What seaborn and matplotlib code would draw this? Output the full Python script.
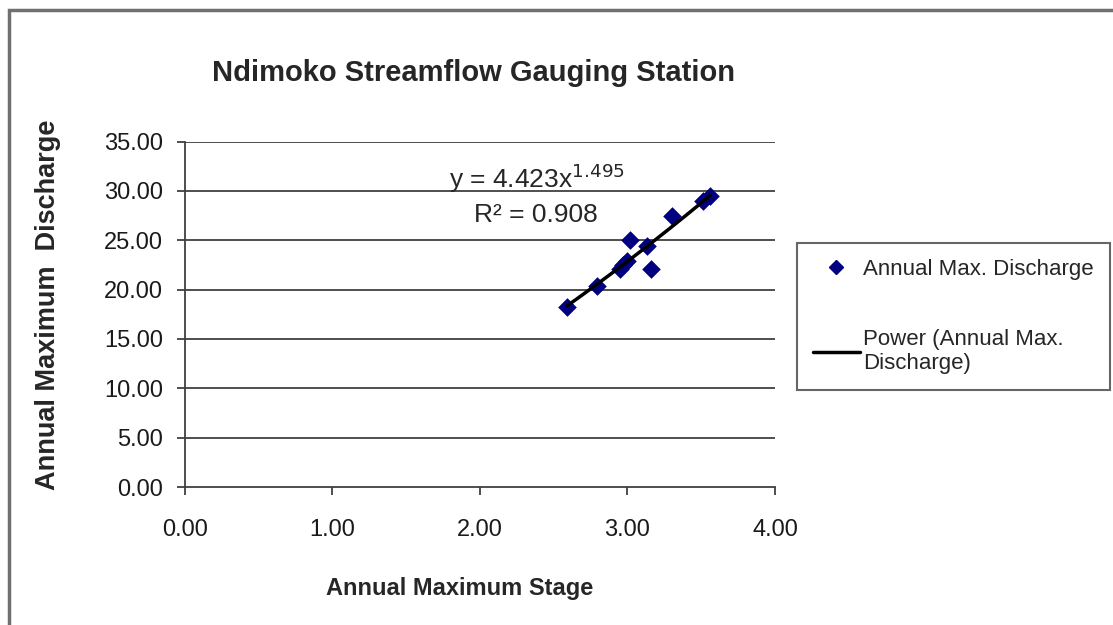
import matplotlib.pyplot as plt
import matplotlib.patches as mpatches
from matplotlib.lines import Line2D
import seaborn as sns
import numpy as np
import pandas as pd

# Data
stage = [2.59, 2.79, 2.95, 2.97, 3.00, 3.02, 3.13, 3.16, 3.30, 3.51, 3.56]
discharge = [18.2, 20.4, 22.1, 22.5, 22.9, 25.0, 24.4, 22.1, 27.5, 29.0, 29.5]

# Power trendline as printed on the chart
coef_a = 4.423
coef_b = 1.495
r_squared = 0.908

x_ticks = [0, 1, 2, 3, 4]
y_ticks = [0, 5, 10, 15, 20, 25, 30, 35]

df = pd.DataFrame({'stage': stage, 'discharge': discharge})

sns.set_style('white')
plt.rcParams['font.family'] = ['Liberation Sans Narrow', 'Liberation Sans', 'DejaVu Sans']

fig = plt.figure(figsize=(11.13, 6.25), dpi=100)
ax = fig.add_axes([0.1662, 0.2208, 0.5301, 0.5528])

# outer chart border
fig.patches.append(mpatches.Rectangle((9 / 1113, -0.05), 1.2, 1 - 10 / 625 + 0.05,
                                      transform=fig.transFigure, fill=False,
                                      edgecolor='#707070', lw=2.5))

# gridlines
for yv in y_ticks[1:]:
    ax.axhline(yv, color='#404040', lw=1.3, zorder=1)

sns.scatterplot(data=df, x='stage', y='discharge', ax=ax, marker='D', s=90,
                color='#000080', edgecolor='#000080', linewidth=0, zorder=3)

xs = np.linspace(min(stage), max(stage), 50)
sns.lineplot(x=xs, y=coef_a * xs ** coef_b, ax=ax, color='black', lw=2.5, zorder=4)

ax.set_xlim(0, 4)
ax.set_ylim(0, 35)
ax.set_xticks(x_ticks)
ax.set_yticks(y_ticks)
ax.set_xticklabels(['%.2f' % v for v in x_ticks], fontsize=17)
ax.set_yticklabels(['%.2f' % v for v in y_ticks], fontsize=17)
ax.tick_params(axis='both', direction='out', length=6, width=1.3, color='#404040',
               labelcolor='#1a1a1a', bottom=True, left=True, pad=10)
ax.tick_params(axis='x', pad=17)

for side in ['top', 'right']:
    ax.spines[side].set_visible(False)
for side in ['left', 'bottom']:
    ax.spines[side].set_color('#404040')
    ax.spines[side].set_linewidth(1.3)

ax.set_xlabel('')
ax.set_ylabel('')

fig.text(474 / 1113, 1 - 73 / 625, 'Ndimoko Streamflow Gauging Station',
         ha='center', va='center', fontsize=21, fontweight='bold')
fig.text(460 / 1113, 1 - 588 / 625, 'Annual Maximum Stage',
         ha='center', va='center', fontsize=17, fontweight='bold')
fig.text(48 / 1113, 1 - 305 / 625, 'Annual Maximum  Discharge', rotation=90,
         ha='center', va='center', fontsize=19.5, fontweight='bold',
         family=['Liberation Sans', 'DejaVu Sans'])

ax.text(537 / 1113, 1 - 178 / 625, 'y = %.3fx$^{%.3f}$' % (coef_a, coef_b),
        transform=fig.transFigure, ha='center', va='center', fontsize=19)
ax.text(536 / 1113, 1 - 215 / 625, 'R² = %.3f' % r_squared,
        transform=fig.transFigure, ha='center', va='center', fontsize=19)

handles = [
    Line2D([], [], marker='D', color='#000080', ls='none', markersize=7),
    Line2D([], [], color='black', lw=2.5),
]
leg = fig.legend(handles, ['Annual Max. Discharge', 'Power (Annual Max.\nDischarge)'],
                 loc='upper left', bbox_to_anchor=(797 / 1113, 1 - 243 / 625),
                 borderaxespad=0, fontsize=16, frameon=True, fancybox=False,
                 handlelength=2.1, labelspacing=2.2, borderpad=0.72, handletextpad=0.15)
leg.get_frame().set_edgecolor('#404040')
leg.get_frame().set_linewidth(1.5)

fig.savefig('out.png', dpi=100)
